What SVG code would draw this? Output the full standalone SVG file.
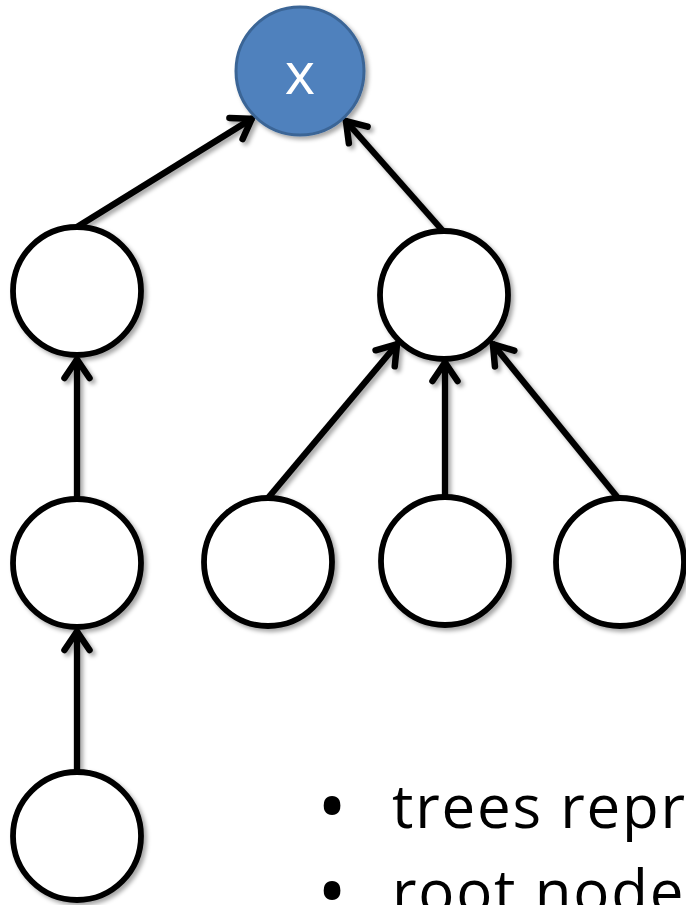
<svg xmlns="http://www.w3.org/2000/svg" width="686" height="905" viewBox="0 0 686 905">
  <defs>
    <filter id="shadow" x="-20%" y="-20%" width="140%" height="140%">
      <feDropShadow dx="3" dy="3" stdDeviation="2.2" flood-color="#000" flood-opacity="0.35"/>
    </filter>
    <marker id="head" markerUnits="userSpaceOnUse" viewBox="-30 -20 40 40" markerWidth="40" markerHeight="40" refX="0" refY="0" orient="auto">
      <path d="M-20,-12.5 L-1.5,0 L-20,12.5" fill="none" stroke="#000" stroke-width="6.5" stroke-linecap="round" stroke-linejoin="miter"/>
    </marker>
    <style>
      .node { fill: #fff; stroke: #000; stroke-width: 5.8; }
      .root { fill: #4F81BD; stroke: #3B6596; stroke-width: 3; }
      .edge { fill: none; stroke: #000; stroke-width: 6.3; marker-end: url(#head); }
      .label { font-family: "Open Sans", "Liberation Sans", sans-serif; fill: #fff; font-size: 58px; text-anchor: middle; }
      .bullet { font-family: "Open Sans", "Liberation Sans", sans-serif; fill: #000; font-size: 60px; letter-spacing: 1.8px; }
    </style>
  </defs>

  <g filter="url(#shadow)">
    <!-- connectors: each child points up to its parent -->
    <g id="edges">
      <line class="edge" x1="77" y1="227" x2="253" y2="118"/>
      <line class="edge" x1="443" y1="231" x2="345" y2="120"/>
      <line class="edge" x1="77" y1="499" x2="77" y2="358"/>
      <line class="edge" x1="77" y1="772" x2="77" y2="630"/>
      <line class="edge" x1="268" y1="498" x2="398" y2="343"/>
      <line class="edge" x1="445" y1="497" x2="445" y2="361"/>
      <line class="edge" x1="618" y1="498" x2="492" y2="343"/>
    </g>

    <g id="node-x">
      <circle class="root" cx="300" cy="71" r="64"/>
      <text class="label" x="300" y="94">x</text>
    </g>
    <g id="node-a"><circle class="node" cx="77" cy="291" r="64"/></g>
    <g id="node-b"><circle class="node" cx="444" cy="295" r="64"/></g>
    <g id="node-c"><circle class="node" cx="77" cy="563" r="64"/></g>
    <g id="node-d"><circle class="node" cx="268" cy="562" r="64"/></g>
    <g id="node-e"><circle class="node" cx="445" cy="561" r="64"/></g>
    <g id="node-f"><circle class="node" cx="620" cy="562" r="64"/></g>
    <g id="node-g"><circle class="node" cx="77" cy="836" r="64"/></g>
  </g>

  <!-- bullet list -->
  <g id="notes">
    <text class="bullet" y="828"><tspan x="317" dy="7" font-size="80">•</tspan><tspan x="392" dy="-7">trees repr</tspan></text>
    <text class="bullet" y="913"><tspan x="317" dy="7" font-size="80">•</tspan><tspan x="392" dy="-7">root node</tspan></text>
  </g>
</svg>
